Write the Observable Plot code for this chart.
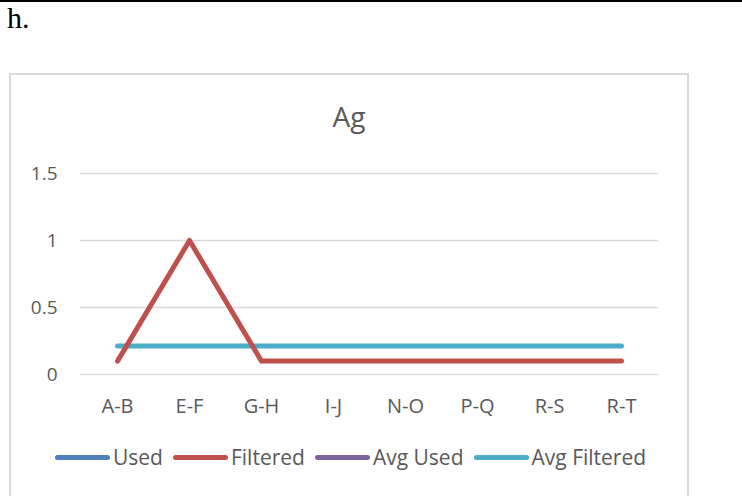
<!DOCTYPE html>
<html>
<head>
<meta charset="utf-8">
<script src="https://cdn.jsdelivr.net/npm/d3@7"></script>
<script src="https://cdn.jsdelivr.net/npm/@observablehq/plot@0.6"></script>
<style>
  html, body { margin: 0; padding: 0; background: #fff; width: 742px; height: 496px; overflow: hidden; position: relative; }
  #topline { position: absolute; left: 0; top: 0; width: 742px; height: 2px; background: #000; }
  #label { position: absolute; left: 7px; top: 1px; font-family: "Liberation Serif", "DejaVu Serif", serif; font-size: 30px; line-height: normal; color: #000; }
  #box { position: absolute; left: 9px; top: 73px; width: 680px; height: 440px; border: 2px solid #d9d9d9; box-sizing: border-box; }
  #title { position: absolute; left: 9px; width: 680px; top: 97px; text-align: center; font-family: "Open Sans", sans-serif; font-size: 28px; line-height: normal; color: #595959; }
  #chart { position: absolute; left: 0; top: 150px; }
  #legend { position: absolute; left: 55px; top: 443px; display: flex; align-items: center; font-family: "Open Sans", sans-serif; font-size: 21px; line-height: normal; color: #595959; white-space: nowrap; }
  .sw { width: 55px; height: 5px; border-radius: 3px; margin-right: 3px; }
  .it { display: flex; align-items: center; margin-right: 10px; }
</style>
</head>
<body>
<div id="topline"></div>
<div id="label">h.</div>
<div id="box"></div>
<div id="title">Ag</div>
<div id="chart"></div>
<div id="legend"></div>
<script>
const categories = ["A-B", "E-F", "G-H", "I-J", "N-O", "P-Q", "R-S", "R-T"];
const usedValues = [null, null, null, null, null, null, null, null];
const filteredValues = [0.1, 1, 0.1, 0.1, 0.1, 0.1, 0.1, 0.1];
const avgUsedValues = [null, null, null, null, null, null, null, null];
const avgFilteredValues = [0.2125, 0.2125, 0.2125, 0.2125, 0.2125, 0.2125, 0.2125, 0.2125];
const yTicks = [0, 0.5, 1, 1.5];
const seriesNames = ["Used", "Filtered", "Avg Used", "Avg Filtered"];
const seriesColors = ["#4f81bd", "#c0504d", "#8064a2", "#4bacc6"];
const seriesValues = [usedValues, filteredValues, avgUsedValues, avgFilteredValues];

const rows = [];
seriesNames.forEach((s, i) => {
  categories.forEach((c, j) => {
    rows.push({series: s, cat: c, value: seriesValues[i][j]});
  });
});
const drawOrder = ["Used", "Avg Used", "Avg Filtered", "Filtered"];

const chart = Plot.plot({
  width: 700,
  height: 274,
  marginLeft: 80,
  marginRight: 42,
  marginTop: 23,
  marginBottom: 50,
  style: {fontFamily: "Open Sans, sans-serif", fontSize: "19px", color: "#595959", background: "transparent", overflow: "visible"},
  x: {type: "point", domain: categories, padding: 0.5},
  y: {domain: [0, 1.5]},
  color: {domain: seriesNames, range: seriesColors},
  marks: [
    Plot.ruleY(yTicks, {stroke: "#d9d9d9", strokeWidth: 1.5}),
    Plot.axisX({label: null, tickSize: 0, tickPadding: 24, fontSize: 20, fill: "#595959"}),
    Plot.axisY(yTicks, {label: null, tickSize: 0, tickPadding: 23, fontSize: 19, fill: "#595959", tickFormat: d => String(d)}),
    ...drawOrder.map(s => Plot.line(rows.filter(r => r.series === s), {
      x: "cat", y: "value", stroke: "series", strokeWidth: 5,
      strokeLinecap: "round", strokeLinejoin: "round"
    }))
  ]
});
document.getElementById("chart").appendChild(chart);

const legend = document.getElementById("legend");
seriesNames.forEach((s, i) => {
  const it = document.createElement("div");
  it.className = "it";
  const sw = document.createElement("div");
  sw.className = "sw";
  sw.style.background = seriesColors[i];
  const t = document.createElement("span");
  t.textContent = s;
  it.appendChild(sw);
  it.appendChild(t);
  legend.appendChild(it);
});
</script>
</body>
</html>
